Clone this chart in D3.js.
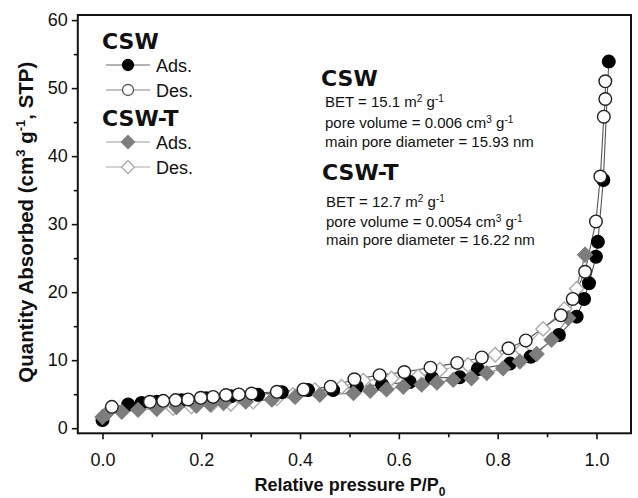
<!DOCTYPE html>
<html><head><meta charset="utf-8">
<script src="https://cdn.jsdelivr.net/npm/d3@7"></script>
<style>body{margin:0;background:#fff}svg{display:block}</style>
</head><body><svg id="c" width="638" height="498"></svg>
<script>
// ---- data ----
const xTickValues = [0, 0.2, 0.4, 0.6, 0.8, 1.0];
const yTickValues = [0, 10, 20, 30, 40, 50, 60];
const xMinorTicks = [0.1, 0.3, 0.5, 0.7, 0.9];
const yMinorTicks = [5, 15, 25, 35, 45, 55];

const cswAdsX = [0.0, 0.052, 0.079, 0.11, 0.16, 0.21, 0.26, 0.315, 0.363, 0.416, 0.467, 0.515, 0.566, 0.622, 0.667, 0.723, 0.76, 0.825, 0.867, 0.924, 0.96, 0.975, 0.985, 0.999, 1.003, 1.014, 1.025];
const cswAdsY = [1.2, 3.5, 3.7, 3.9, 4.1, 4.4, 4.7, 4.9, 5.3, 5.6, 5.6, 6.1, 6.4, 6.8, 7.4, 7.5, 8.7, 9.5, 10.5, 13.7, 16.4, 19.0, 21.3, 25.2, 27.4, 36.5, 53.9];

const cswDesX = [1.018, 1.018, 1.015, 1.008, 0.999, 0.977, 0.952, 0.928, 0.857, 0.822, 0.768, 0.718, 0.664, 0.611, 0.561, 0.51, 0.462, 0.407, 0.353, 0.302, 0.276, 0.250, 0.224, 0.199, 0.173, 0.148, 0.123, 0.096, 0.019];
const cswDesY = [51.0, 48.4, 45.8, 37.0, 30.4, 23.0, 19.0, 16.6, 12.9, 11.75, 10.4, 9.6, 8.9, 8.26, 7.8, 7.2, 6.1, 5.7, 5.35, 5.1, 4.97, 4.87, 4.6, 4.47, 4.23, 4.13, 4.02, 3.88, 3.14];

const cswtAdsX = [0.0, 0.009, 0.039, 0.072, 0.11, 0.15, 0.19, 0.218, 0.245, 0.29, 0.343, 0.39, 0.44, 0.508, 0.542, 0.575, 0.609, 0.646, 0.677, 0.71, 0.747, 0.778, 0.811, 0.845, 0.879, 0.909, 0.943, 0.977];
const cswtAdsY = [1.65, 2.2, 2.4, 2.7, 2.9, 3.1, 3.3, 3.5, 3.7, 3.9, 4.2, 4.6, 4.9, 5.15, 5.5, 5.7, 6.1, 6.4, 6.7, 7.1, 7.35, 8.1, 8.8, 9.8, 10.9, 13.0, 16.2, 25.5];

const cswtDesX = [0.977, 0.96, 0.935, 0.892, 0.849, 0.795, 0.74, 0.683, 0.639, 0.585, 0.528, 0.484, 0.43, 0.386, 0.353, 0.305, 0.26, 0.22, 0.18, 0.143, 0.11];
const cswtDesY = [25.5, 20.5, 17.5, 14.6, 11.5, 10.8, 9.3, 8.6, 7.6, 7.3, 7.0, 6.1, 5.6, 4.9, 4.4, 3.9, 3.6, 3.4, 3.2, 2.95, 2.8];

// ---- layout ----
const svg = d3.select("#c");
const L = 77.8, R = 631, T = 15, B = 433.3;
const x = d3.scaleLinear().domain([-0.05, 1.07]).range([L, R]);
const y = d3.scaleLinear().domain([-0.75, 60.75]).range([B, T]);
const sans = "Liberation Sans, Arial, sans-serif";
const heavy = "DejaVu Sans, Verdana, sans-serif";

// axes
const xAxis = svg.append("g").attr("transform", `translate(0,${B})`)
  .call(d3.axisBottom(x).tickValues(xTickValues).tickFormat(d3.format(".1f")).tickSize(6).tickPadding(14));
const xMinor = svg.append("g").attr("transform", `translate(0,${B})`)
  .call(d3.axisBottom(x).tickValues(xMinorTicks).tickFormat("").tickSize(4));
const yAxis = svg.append("g").attr("transform", `translate(${L},0)`)
  .call(d3.axisLeft(y).tickValues(yTickValues).tickFormat(d3.format("d")).tickSize(6).tickPadding(4));
const yMinor = svg.append("g").attr("transform", `translate(${L},0)`)
  .call(d3.axisLeft(y).tickValues(yMinorTicks).tickFormat("").tickSize(4));
[xAxis, xMinor, yAxis, yMinor].forEach(g => {
  g.select(".domain").remove();
  g.selectAll("line").attr("stroke", "#111").attr("stroke-width", 1.6);
  g.selectAll("text").attr("font-family", sans).attr("font-size", 18).attr("fill", "#111");
});

// frame
svg.append("rect").attr("x", L).attr("y", T).attr("width", R - L).attr("height", B - T)
  .attr("fill", "none").attr("stroke", "#111").attr("stroke-width", 2);

// axis titles
const yt = svg.append("text").attr("transform", `translate(33,${(T + B) / 2 - 2}) rotate(-90)`)
  .attr("text-anchor", "middle").attr("font-family", sans).attr("font-weight", "bold").attr("font-size", 20.5).attr("fill", "#111");
yt.append("tspan").text("Quantity Absorbed (cm");
yt.append("tspan").attr("dy", -8).attr("font-size", 13).text("3");
yt.append("tspan").attr("dy", 8).text(" g");
yt.append("tspan").attr("dy", -8).attr("font-size", 13).text("-1");
yt.append("tspan").attr("dy", 8).text(", STP)");

const xt = svg.append("text").attr("x", 350).attr("y", 491)
  .attr("text-anchor", "middle").attr("font-family", sans).attr("font-weight", "bold").attr("font-size", 18).attr("fill", "#111");
xt.append("tspan").text("Relative pressure P/P");
xt.append("tspan").attr("dy", 5).attr("font-size", 12).text("0");

// series
const zip = (xs, ys) => xs.map((v, i) => [v, ys[i]]);
const line = d3.line().x(d => x(d[0])).y(d => y(d[1]));
const diamond = r => `M0,${-r}L${r},0L0,${r}L${-r},0Z`;

const series = [
  {data: zip(cswtDesX, cswtDesY), shape: "d", fill: "#fff", stroke: "#aaa", line: "#aaa"},
  {data: zip(cswAdsX, cswAdsY), shape: "c", fill: "#000", stroke: "#000", line: "#555"},
  {data: zip(cswtAdsX, cswtAdsY), shape: "d", fill: "#7d7d7d", stroke: "#7d7d7d", line: "#888"},
  {data: zip(cswDesX, cswDesY), shape: "c", fill: "#fff", stroke: "#222", line: "#555"}
];
series.forEach(s => {
  svg.append("path").attr("d", line(s.data)).attr("fill", "none").attr("stroke", s.line).attr("stroke-width", 1.1);
});
series.forEach(s => {
  const g = svg.append("g");
  if (s.shape === "c") {
    g.selectAll("circle").data(s.data).join("circle")
      .attr("cx", d => x(d[0])).attr("cy", d => y(d[1])).attr("r", 6.3)
      .attr("fill", s.fill).attr("stroke", s.stroke).attr("stroke-width", 1.4);
  } else {
    g.selectAll("path").data(s.data).join("path")
      .attr("transform", d => `translate(${x(d[0])},${y(d[1])})`).attr("d", diamond(7.2))
      .attr("fill", s.fill).attr("stroke", s.stroke).attr("stroke-width", 1.4);
  }
});

// legend
const leg = svg.append("g");
leg.append("text").attr("x", 102).attr("y", 49).attr("font-family", heavy).attr("font-weight", "bold").attr("font-size", 22).attr("fill", "#111").text("CSW");
leg.append("text").attr("x", 102).attr("y", 126).attr("font-family", heavy).attr("font-weight", "bold").attr("font-size", 22).attr("fill", "#111").text("CSW-T");
const legItems = [
  {yy: 65, label: "Ads.", shape: "c", fill: "#000", stroke: "#000", line: "#666"},
  {yy: 90, label: "Des.", shape: "c", fill: "#fff", stroke: "#555", line: "#888"},
  {yy: 142, label: "Ads.", shape: "d", fill: "#7d7d7d", stroke: "#7d7d7d", line: "#999"},
  {yy: 167, label: "Des.", shape: "d", fill: "#fff", stroke: "#aaa", line: "#aaa"}
];
legItems.forEach(it => {
  leg.append("line").attr("x1", 106).attr("x2", 150).attr("y1", it.yy).attr("y2", it.yy).attr("stroke", it.line).attr("stroke-width", 1.2);
  if (it.shape === "c") {
    leg.append("circle").attr("cx", 128).attr("cy", it.yy).attr("r", 5.5).attr("fill", it.fill).attr("stroke", it.stroke).attr("stroke-width", 1.3);
  } else {
    leg.append("path").attr("transform", `translate(128,${it.yy})`).attr("d", diamond(6.5)).attr("fill", it.fill).attr("stroke", it.stroke).attr("stroke-width", 1.3);
  }
  leg.append("text").attr("x", 156).attr("y", it.yy + 7).attr("font-family", sans).attr("font-size", 18).attr("fill", "#111").text(it.label);
});

// annotations
const ann = svg.append("g");
function sup(t, parts) {
  parts.forEach(p => {
    if (p[1]) t.append("tspan").attr("dy", -5).attr("font-size", 10).text(p[0]);
    else t.append("tspan").attr("dy", p[2] || 0).text(p[0]);
  });
}
function block(x0, yHead, yLines, head, bet, vol, diam) {
  ann.append("text").attr("x", x0).attr("y", yHead).attr("font-family", heavy).attr("font-weight", "bold").attr("font-size", 22).attr("fill", "#111").text(head);
  const mk = yy => ann.append("text").attr("x", x0 + 4).attr("y", yy).attr("font-family", sans).attr("font-size", 15).attr("fill", "#111");
  sup(mk(yLines[0]), [["BET = " + bet + " m"], ["2", true], [" g", false, 5], ["-1", true]]);
  sup(mk(yLines[1]), [["pore volume = " + vol + " cm"], ["3", true], [" g", false, 5], ["-1", true]]);
  mk(yLines[2]).text("main pore diameter = " + diam + " nm");
}
block(321, 86, [107, 128, 147], "CSW", "15.1", "0.006", "15.93");
block(322, 180, [207, 227, 245], "CSW-T", "12.7", "0.0054", "16.22");
</script>
</body></html>
